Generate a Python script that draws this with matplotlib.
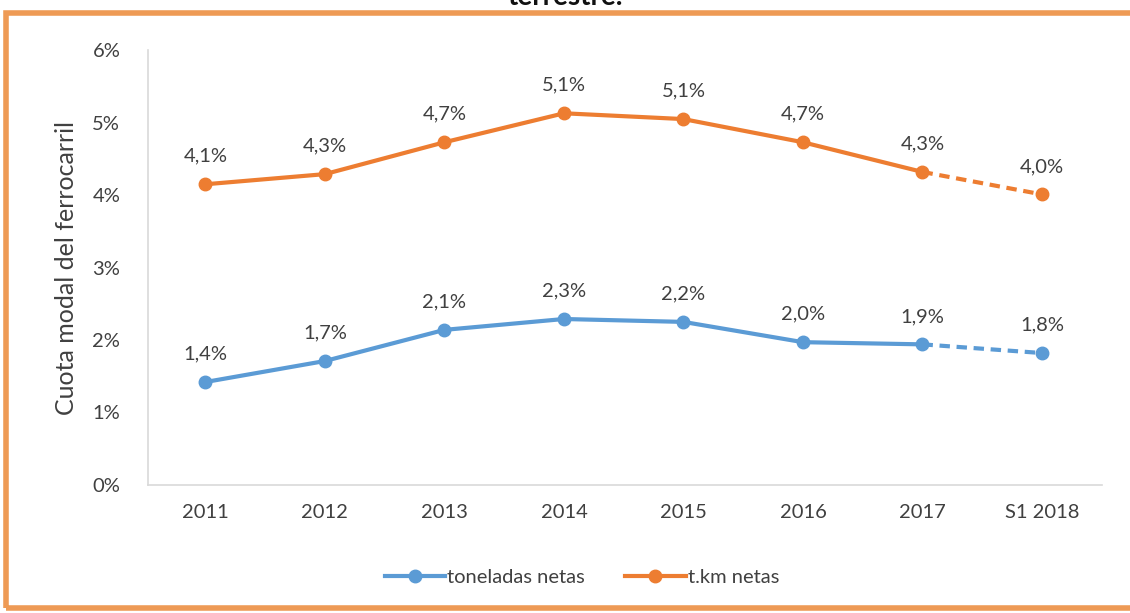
import matplotlib
matplotlib.use("Agg")
import matplotlib.pyplot as plt
from matplotlib.patches import Rectangle
from matplotlib.lines import Line2D

# datos (cuota modal, %)
CATEGORIES = ["2011", "2012", "2013", "2014", "2015", "2016", "2017", "S1 2018"]
TONELADAS = [1.42, 1.71, 2.14, 2.29, 2.25, 1.97, 1.94, 1.82]
TKM = [4.15, 4.29, 4.73, 5.13, 5.05, 4.73, 4.32, 4.01]
TONELADAS_LBL = ["1,4%", "1,7%", "2,1%", "2,3%", "2,2%", "2,0%", "1,9%", "1,8%"]
TKM_LBL = ["4,1%", "4,3%", "4,7%", "5,1%", "5,1%", "4,7%", "4,3%", "4,0%"]
YTICKS = [0, 1, 2, 3, 4, 5, 6]

BLUE = "#5B9BD5"
ORANGE = "#ED7D31"
TXT = "#404040"
FS = 14.5

plt.rcParams["font.family"] = ["Lato", "DejaVu Sans"]

fig = plt.figure(figsize=(11.30, 6.13), dpi=100)
ax = fig.add_axes([0.131, 0.209, 0.844, 0.709])

x = list(range(len(CATEGORIES)))
n = len(x) - 1
for vals, labels, color in [(TONELADAS, TONELADAS_LBL, BLUE), (TKM, TKM_LBL, ORANGE)]:
    ax.plot(x[:n], vals[:n], "-", color=color, lw=3, zorder=3)
    ax.plot(x[n - 1:], vals[n - 1:], "--", color=color, lw=3, dashes=(2.5, 1.6), zorder=3)
    ax.plot(x, vals, "o", color=color, ms=9, zorder=4)
    for xi, yi, lb in zip(x, vals, labels):
        ax.annotate(lb, (xi, yi), xytext=(0, 14), textcoords="offset points",
                    ha="center", va="bottom", fontsize=FS, color=TXT)

ax.set_xlim(-0.48, n + 0.5)
ax.set_ylim(0, 6)
ax.set_xticks(x)
ax.set_xticklabels(CATEGORIES, fontsize=FS, color=TXT)
ax.set_yticks(YTICKS)
ax.set_yticklabels([f"{v}%" for v in YTICKS], fontsize=FS, color=TXT)
ax.tick_params(length=0, pad=14)
ax.tick_params(axis="y", pad=20)
for s in ["top", "right"]:
    ax.spines[s].set_visible(False)
for s in ["left", "bottom"]:
    ax.spines[s].set_color("#D9D9D9")
    ax.spines[s].set_linewidth(1.2)
ax.set_ylabel("Cuota modal del ferrocarril", fontsize=18, color=TXT, labelpad=10)

handles = [Line2D([], [], color=BLUE, lw=3, marker="o", ms=9),
           Line2D([], [], color=ORANGE, lw=3, marker="o", ms=9)]
fig.legend(handles, ["toneladas netas", "t.km netas"], loc="center",
           bbox_to_anchor=(0.515, 0.058), ncol=2, frameon=False, fontsize=FS,
           handlelength=3.0, handletextpad=0.1, columnspacing=2.0, labelcolor=TXT)

# marco naranja y título recortado
fig.patches.append(Rectangle((6 / 1130, 5 / 613), 1.2, 595 / 613, transform=fig.transFigure,
                             fill=False, edgecolor="#EE9A55", lw=4))
fig.text(0.5, 1 + 3 / 613, "terrestre.", ha="center", va="center", fontsize=20,
         fontweight="bold", color="#111111")

fig.savefig("out.png", dpi=100)
